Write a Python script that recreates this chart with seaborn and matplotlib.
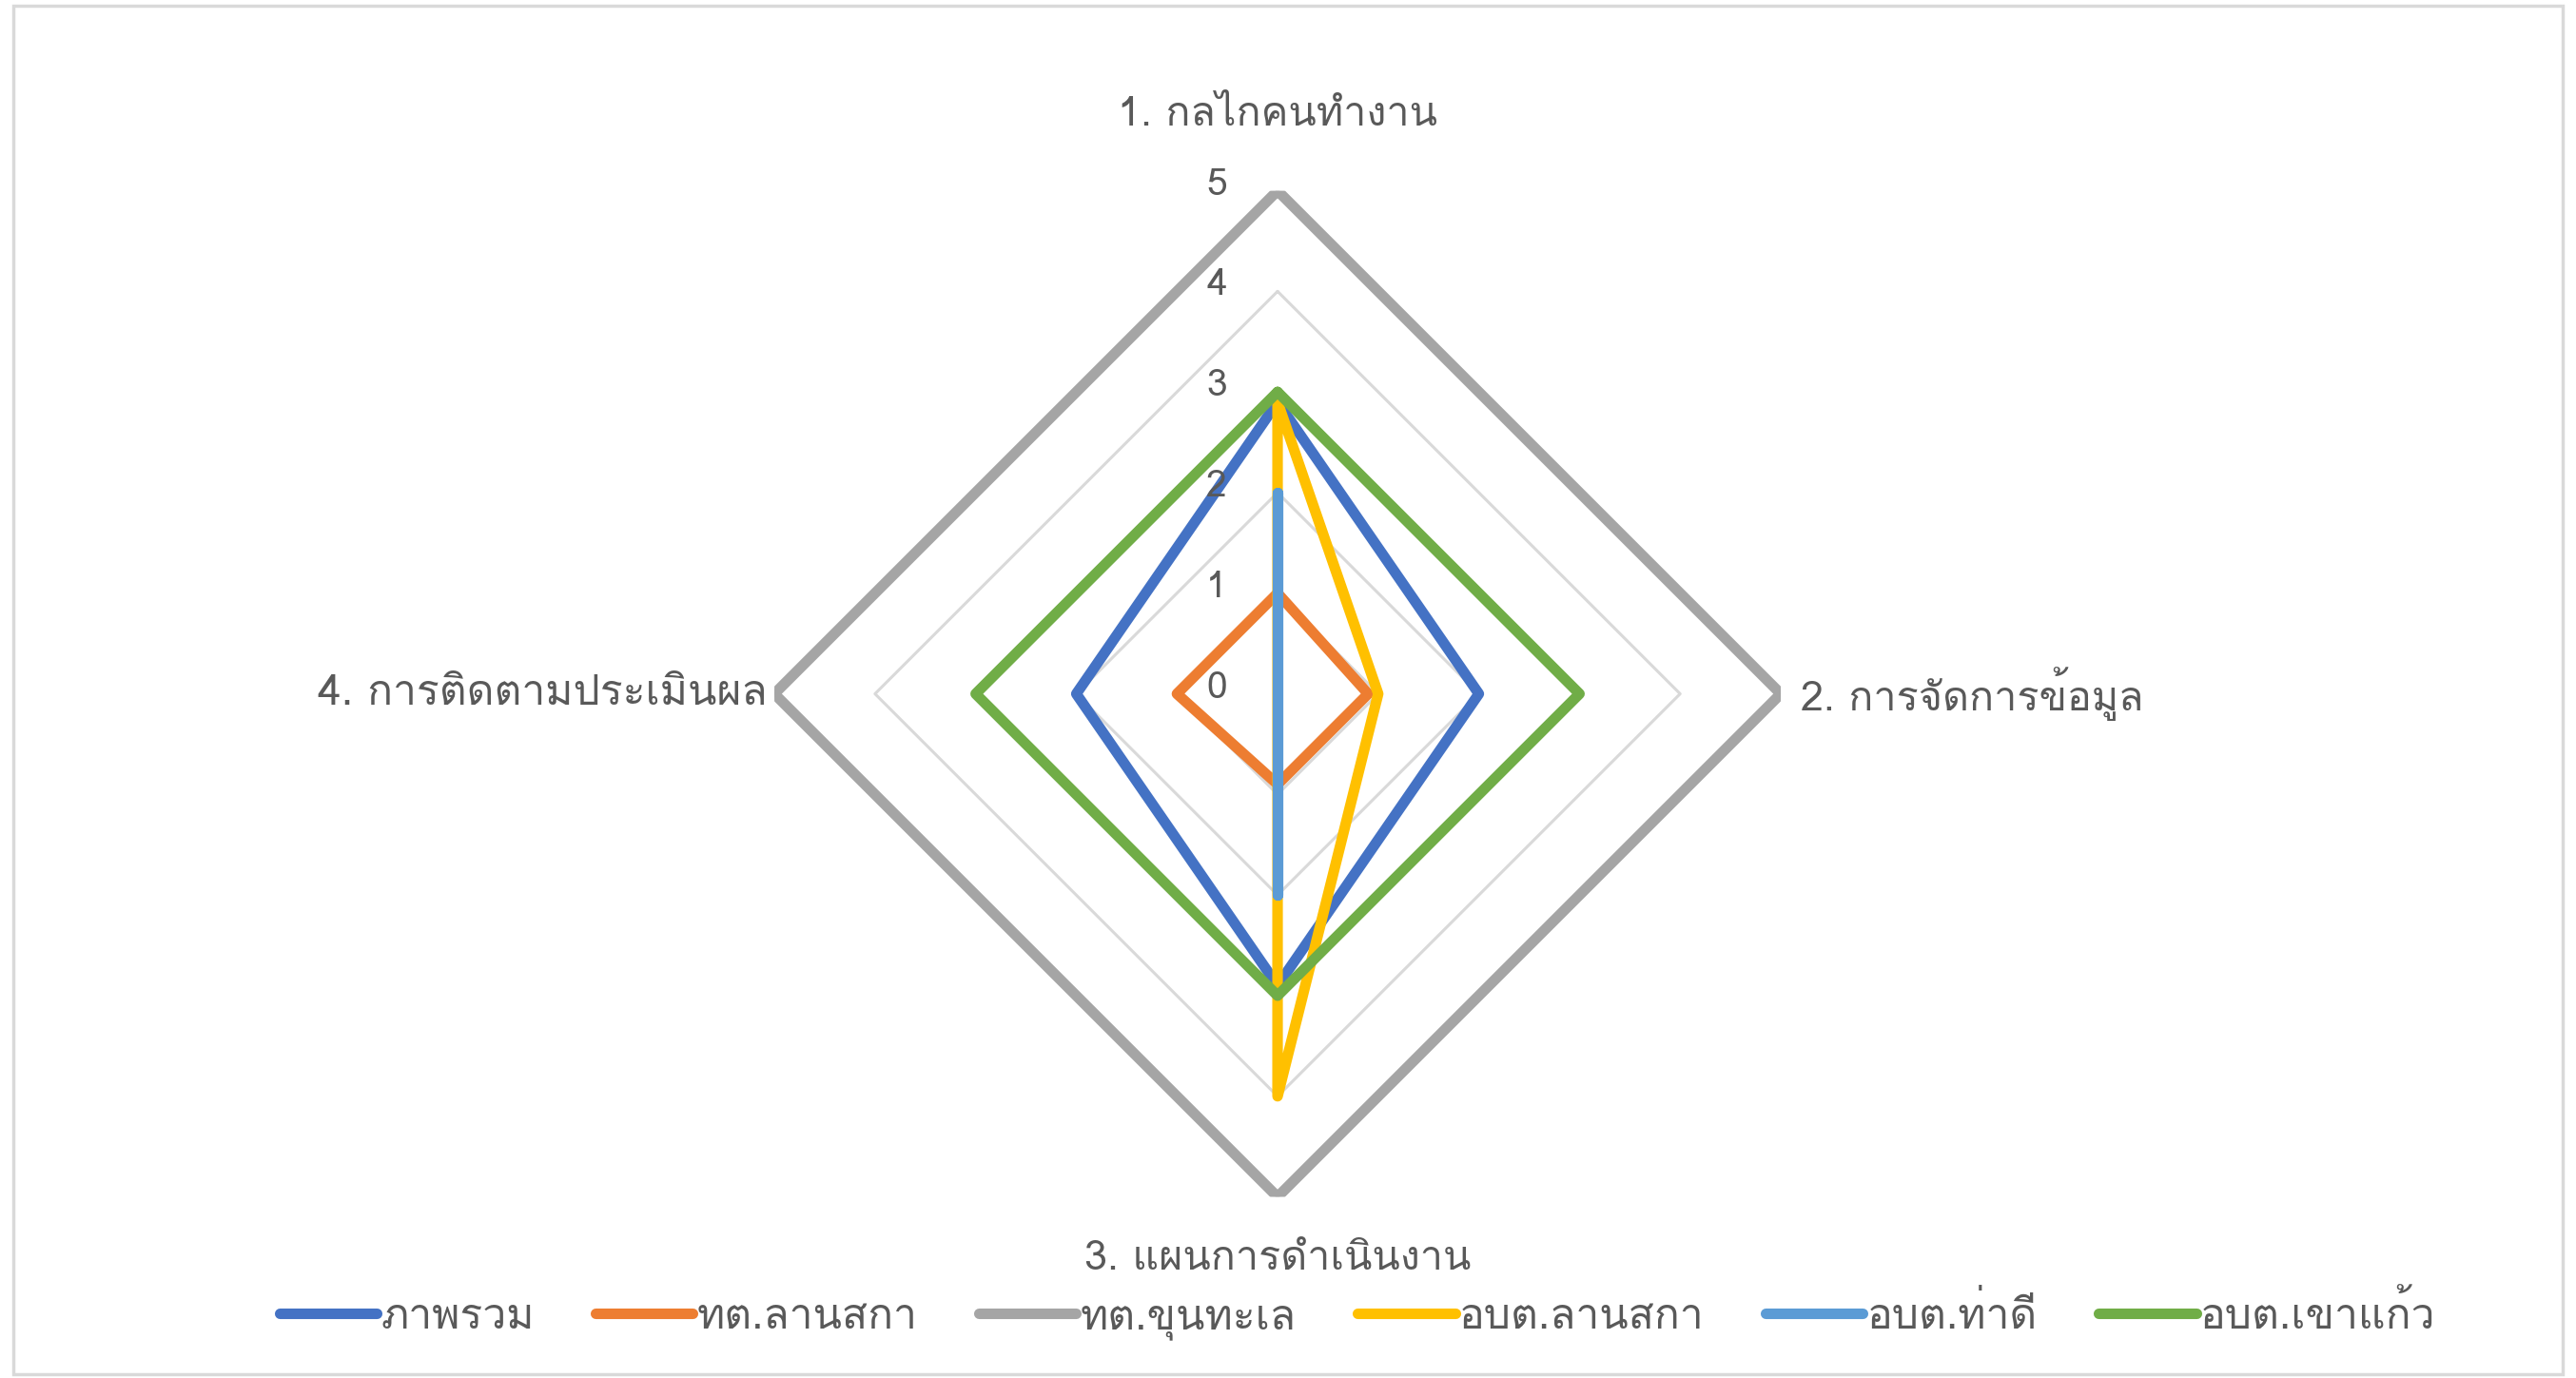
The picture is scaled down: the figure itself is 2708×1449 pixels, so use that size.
import numpy as np
import pandas as pd
import matplotlib
matplotlib.use("Agg")
import matplotlib.pyplot as plt
import matplotlib.font_manager as fm
from matplotlib.ft2font import FT2Font
from matplotlib.patches import Rectangle
import seaborn as sns

# axes of the radar and the scores per organisation
categories = ["1. กลไกคนทำงาน", "2. การจัดการข้อมูล", "3. แผนการดำเนินงาน", "4. การติดตามประเมินผล"]
series_names = ["ภาพรวม", "ทต.ลานสกา", "ทต.ขุนทะเล", "อบต.ลานสกา", "อบต.ท่าดี", "อบต.เขาแก้ว"]
overall = [2.9, 2.0, 2.9, 2.0]
tt_lansaka = [1.0, 0.9, 0.9, 1.0]
tt_khuntale = [5.0, 5.0, 5.0, 5.0]
obt_lansaka = [2.9, 1.0, 4.0, 0.0]
obt_thadee = [2.0, 0.0, 2.0, 0.0]
obt_khaokaew = [3.0, 3.0, 3.0, 3.0]
tick_values = [0, 1, 2, 3, 4, 5]

colors = ["#4472C4", "#ED7D31", "#A5A5A5", "#FFC000", "#5B9BD5", "#70AD47"]
text_color = "#595959"

sns.set_style("white")

# look for an installed font that has Thai glyphs
thai_font = None
for f in fm.fontManager.ttflist:
    try:
        if 0x0E01 in FT2Font(f.fname).get_charmap():
            thai_font = f.name
            break
    except Exception:
        pass
plt.rcParams["font.family"] = [thai_font, "DejaVu Sans"] if thai_font else ["DejaVu Sans"]
plt.rcParams["lines.solid_joinstyle"] = "round"
plt.rcParams["lines.solid_capstyle"] = "round"

n = len(categories)
theta = [2 * np.pi * i / n for i in range(n)] + [2 * np.pi]

rows = []
for name, vals in zip(series_names, [overall, tt_lansaka, tt_khuntale, obt_lansaka, obt_thadee, obt_khaokaew]):
    closed = list(vals) + [vals[0]]
    for t, v in zip(theta, closed):
        rows.append({"series": name, "theta": t, "value": v})
df = pd.DataFrame(rows)

fig = plt.figure(figsize=(27.08, 14.49), dpi=100)
fig.patch.set_facecolor("white")
fig.patches.append(Rectangle((0.005, 0.003), 0.99, 0.993, transform=fig.transFigure,
                             fill=False, edgecolor="#D9D9D9", linewidth=2.5))

ax = fig.add_axes([0.3006, 0.1314, 0.3907, 0.7302], projection="polar")
ax.set_theta_offset(np.pi / 2)
ax.set_theta_direction(-1)
ax.set_ylim(0, 5)
ax.grid(False)
ax.spines["polar"].set_visible(False)
ax.set_xticks([])
ax.set_yticks([])
ax.set_facecolor("none")

# diamond gridlines
for lvl in tick_values[1:]:
    ax.plot(theta, [lvl] * len(theta), color="#D9D9D9", linewidth=2.2, zorder=1)

sns.lineplot(data=df, x="theta", y="value", hue="series", hue_order=series_names,
             palette=colors, sort=False, estimator=None, linewidth=8, legend=False,
             ax=ax, zorder=3)
ax.set_xlabel("")
ax.set_ylabel("")

for v in tick_values:
    ax.annotate(str(v), xy=(0, v), xytext=(-64, 6), textcoords="offset pixels",
                ha="center", va="center", fontsize=28, color=text_color, zorder=4)

ax.text(0, 5.75, categories[0], ha="center", va="center", fontsize=31, color=text_color, clip_on=False)
ax.text(np.pi / 2, 5.2, categories[1], ha="left", va="center", fontsize=31, color=text_color, clip_on=False)
ax.text(np.pi, 5.62, categories[2], ha="center", va="center", fontsize=31, color=text_color, clip_on=False)
ax.text(3 * np.pi / 2, 5.07, categories[3], ha="right", va="center", fontsize=32, color=text_color, clip_on=False)

handles = [plt.Line2D([], [], color=c, linewidth=8) for c in colors]
leg = fig.legend(handles, series_names, loc="center", bbox_to_anchor=(0.527, 0.045), ncol=6,
                 frameon=False, fontsize=32, handlelength=2.3, handletextpad=0.1,
                 columnspacing=1.45)
for t in leg.get_texts():
    t.set_color(text_color)

fig.savefig("out.png", dpi=100)
